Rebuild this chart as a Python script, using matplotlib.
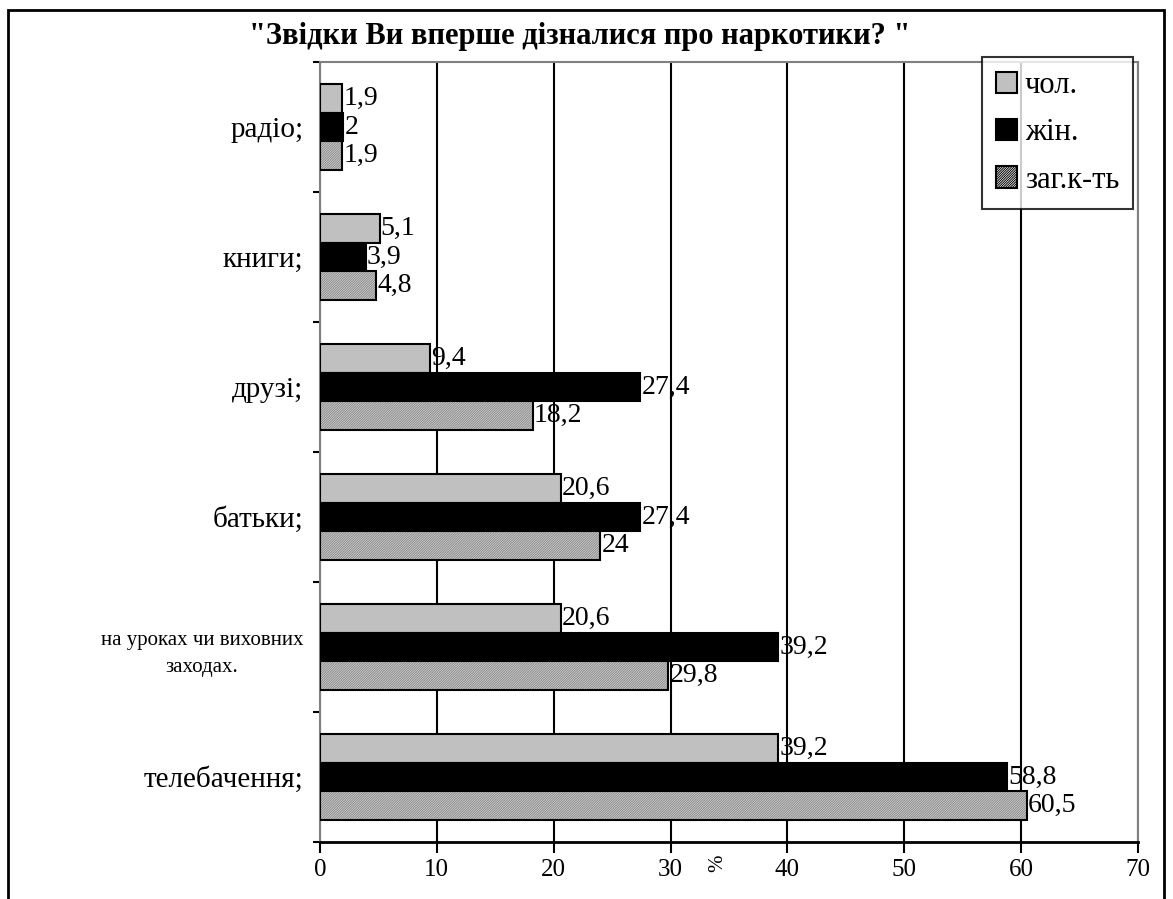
import matplotlib.pyplot as plt
from matplotlib.patches import Rectangle
import numpy as np

plt.rcParams['font.family'] = ['Liberation Serif', 'DejaVu Serif']
plt.rcParams['hatch.linewidth'] = 0.7

categories = ['радіо;', 'книги;', 'друзі;', 'батьки;',
              'на уроках чи виховних\nзаходах.', 'телебачення;']
men = [1.9, 5.1, 9.4, 20.6, 20.6, 39.2]
women = [2, 3.9, 27.4, 27.4, 39.2, 58.8]
total = [1.9, 4.8, 18.2, 24, 29.8, 60.5]
series_names = ['чол.', 'жін.', 'заг.к-ть']


def fmt(v):
    if float(v).is_integer():
        return str(int(v))
    return str(v).replace('.', ',')


fig = plt.figure(figsize=(11.73, 8.99), dpi=100)
fig.patches.append(Rectangle((0.0068, -0.02), 0.9855, 1.0089, transform=fig.transFigure,
                             fill=False, edgecolor='black', linewidth=2))
ax = fig.add_axes([0.2728, 0.0634, 0.6974, 0.8676])

y = np.arange(len(categories))
h = 0.22
hatch = '/' * 14

b1 = ax.barh(y - h, men, height=h, color='#c0c0c0', edgecolor='black', linewidth=1.5, zorder=3)
b2 = ax.barh(y, women, height=h, color='black', edgecolor='black', linewidth=1.5, zorder=3)
ax.barh(y + h, total, height=h, color='#d4d4d4', edgecolor='#8c8c8c', hatch=hatch,
        linewidth=0, zorder=3)
b3 = ax.barh(y + h, total, height=h, fill=False, edgecolor='black', linewidth=1.5, zorder=4)

for vals, off in [(men, -h), (women, 0), (total, h)]:
    for i, v in enumerate(vals):
        ax.text(v + 0.1, i + off, fmt(v), va='center', ha='left', fontsize=20, zorder=5)

ax.set_xlim(0, 70)
ax.set_ylim(len(categories) - 0.5, -0.5)
ax.set_xticks(range(0, 71, 10))
ax.tick_params(axis='x', direction='out', length=8, width=1.5, labelsize=18, pad=4)
ax.set_yticks(np.arange(len(categories) + 1) - 0.5)
ax.set_yticklabels([])
ax.tick_params(axis='y', which='major', direction='out', length=5, width=1.5)
ax.set_yticks(y, minor=True)
ax.set_yticklabels(categories, minor=True, fontsize=21, multialignment='center')
ax.tick_params(axis='y', which='minor', length=0, pad=12)
# the two-line label is squeezed in the original
lbl = ax.get_yticklabels(minor=True)[4]
lbl.set_fontsize(15)
lbl.set_linespacing(1.6)

ax.grid(axis='x', color='black', linewidth=1.5, zorder=1)
ax.set_axisbelow(True)
ax.spines['bottom'].set_linewidth(2)
for s in ['left', 'top', 'right']:
    ax.spines[s].set_color('#808080')
    ax.spines[s].set_linewidth(1.5)

fig.text(0.6121, 0.04, '%', rotation=90, fontsize=15, ha='center', va='center')
fig.text(0.4945, 0.959, '"Звідки Ви вперше дізналися про наркотики? "',
         fontsize=22, fontweight='bold', ha='center', va='center')

leg = ax.legend([b1, b2, b3], series_names, loc='upper right', bbox_to_anchor=(0.9939, 1.006),
                fontsize=22, frameon=True, fancybox=False, edgecolor='black',
                handlelength=0.7, handleheight=0.7, handletextpad=0.25,
                labelspacing=0.6, borderpad=0.45, borderaxespad=0)
leg.get_frame().set_linewidth(1.5)
leg.set_zorder(10)
leg.legend_handles[2].set_facecolor('#d4d4d4')
leg.legend_handles[2].set_hatch(hatch)

fig.savefig('out.png', dpi=100)
